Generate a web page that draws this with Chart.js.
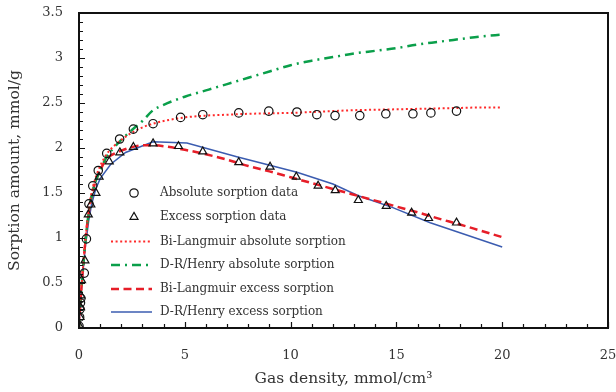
<!DOCTYPE html>
<html>
<head>
<meta charset="utf-8">
<script src="https://cdn.jsdelivr.net/npm/chart.js@4.4.1/dist/chart.umd.min.js"></script>
<style>
	html, body { margin: 0; padding: 0; background: #fff; }
</style>
</head>
<body>
<canvas id="grafico" width="616" height="392"></canvas>
<script>
// measured points (gas density, sorption amount)
const absX = [0, 0.03, 0.05, 0.07, 0.09, 0.25, 0.35, 0.47, 0.65, 0.91, 1.31, 1.92, 2.57, 3.5, 4.8, 5.85, 7.55, 8.97, 10.3, 11.24, 12.1, 13.27, 14.5, 15.78, 16.63, 17.84];
const absY = [0.02, 0.12, 0.21, 0.28, 0.33, 0.61, 0.99, 1.38, 1.58, 1.75, 1.94, 2.10, 2.21, 2.27, 2.34, 2.37, 2.39, 2.41, 2.40, 2.37, 2.36, 2.36, 2.38, 2.38, 2.39, 2.41];
const excX = [0.02, 0.05, 0.07, 0.09, 0.12, 0.28, 0.44, 0.56, 0.8, 0.95, 1.43, 1.93, 2.57, 3.5, 4.7, 5.85, 7.55, 9.03, 10.27, 11.3, 12.11, 13.2, 14.52, 15.72, 16.52, 17.84];
const excY = [0.02, 0.12, 0.23, 0.36, 0.53, 0.75, 1.26, 1.37, 1.50, 1.68, 1.85, 1.95, 2.01, 2.05, 2.02, 1.96, 1.84, 1.79, 1.68, 1.58, 1.53, 1.42, 1.355, 1.28, 1.22, 1.17];

// model curves
const curveX = [0, 0.05, 0.1, 0.2, 0.3, 0.4, 0.5, 0.65, 0.8, 1, 1.3, 1.6, 2, 2.5, 3, 3.5, 4, 5, 6, 7, 8, 9, 10, 11, 12, 13, 14, 15, 16, 17, 18, 19, 20];
const biLangAbs = [0, 0.22, 0.4, 0.7, 0.97, 1.2, 1.38, 1.56, 1.68, 1.80, 1.93, 2.01, 2.09, 2.17, 2.23, 2.27, 2.30, 2.34, 2.36, 2.37, 2.38, 2.385, 2.39, 2.40, 2.41, 2.42, 2.425, 2.43, 2.435, 2.44, 2.445, 2.45, 2.45];
const drAbs = [0, 0.2, 0.38, 0.68, 0.95, 1.17, 1.34, 1.52, 1.64, 1.75, 1.90, 1.99, 2.09, 2.2, 2.3, 2.42, 2.48, 2.57, 2.64, 2.71, 2.78, 2.85, 2.92, 2.97, 3.01, 3.05, 3.08, 3.11, 3.15, 3.18, 3.21, 3.24, 3.26];
const biLangExc = [0, 0.22, 0.4, 0.7, 0.96, 1.18, 1.34, 1.52, 1.64, 1.75, 1.88, 1.93, 1.97, 2.01, 2.03, 2.03, 2.02, 1.98, 1.93, 1.87, 1.80, 1.74, 1.675, 1.61, 1.545, 1.48, 1.415, 1.35, 1.285, 1.215, 1.15, 1.08, 1.01];
const drExcX = [0, 0.05, 0.1, 0.2, 0.3, 0.45, 0.6, 0.8, 1.0, 1.5, 2.2, 3.5, 5.1, 7.5, 10.3, 12.0, 13.2, 14.8, 16.6, 20];
const drExcY = [0, 0.22, 0.38, 0.66, 0.9, 1.18, 1.38, 1.55, 1.66, 1.82, 1.95, 2.07, 2.055, 1.90, 1.73, 1.60, 1.47, 1.34, 1.17, 0.90];

// axis ticks
const xTicks = [0, 5, 10, 15, 20, 25];
const yTicks = [0, 0.5, 1, 1.5, 2, 2.5, 3, 3.5];

const labels = ['Absolute sorption data', 'Excess sorption data', 'Bi-Langmuir absolute sorption', 'D-R/Henry absolute sorption', 'Bi-Langmuir excess sorption', 'D-R/Henry excess sorption'];

(function(){
	const FONT = '"DejaVu Serif", "Liberation Serif", serif';
	const INK = '#333';

	function pairs(xs, ys){
		return xs.map((x, i) => ({ x: x, y: ys[i] }));
	}

	// ticks pointing inside + closed frame
	const frame = {
		id: 'cornice',
		afterDraw(chart){
			const ctx = chart.ctx;
			const a = chart.chartArea;
			const sx = chart.scales.x, sy = chart.scales.y;
			ctx.save();
			ctx.strokeStyle = '#111';
			ctx.lineWidth = 1.2;
			ctx.beginPath();
			for(let v = 0; v <= 25; v++){
				const px = Math.round(sx.getPixelForValue(v)) + 0.5;
				const len = v % 5 === 0 ? 6 : 4;
				ctx.moveTo(px, a.bottom);
				ctx.lineTo(px, a.bottom - len);
			}
			for(let k = 0; k <= 35; k++){
				const py = Math.round(sy.getPixelForValue(k / 10)) + 0.5;
				const len = k % 5 === 0 ? 6 : 4;
				ctx.moveTo(a.left, py);
				ctx.lineTo(a.left + len, py);
			}
			ctx.stroke();
			ctx.lineWidth = 2;
			ctx.strokeRect(a.left, a.top, a.right - a.left, a.bottom - a.top);
			ctx.restore();
		}
	};

	// legend inside the plot, drawn from the dataset styles
	const legenda = {
		id: 'legendaInterna',
		afterDraw(chart){
			const ctx = chart.ctx;
			const a = chart.chartArea;
			const rows = [180, 204, 228.5, 252, 276, 299];
			ctx.save();
			chart.data.datasets.forEach((ds, i) => {
				const y = a.top + rows[i];
				if(ds.showLine){
					ctx.strokeStyle = ds.borderColor;
					ctx.lineWidth = ds.borderWidth;
					ctx.setLineDash(ds.borderDash || []);
					ctx.beginPath();
					ctx.moveTo(a.left + 32, y);
					ctx.lineTo(a.left + 73, y);
					ctx.stroke();
					ctx.setLineDash([]);
				} else {
					ctx.strokeStyle = ds.borderColor;
					ctx.fillStyle = 'rgba(0,0,0,0)';
					ctx.lineWidth = ds.borderWidth;
					Chart.helpers.drawPoint(ctx, {
						pointStyle: ds.pointStyle,
						radius: ds.pointRadius,
						borderWidth: ds.borderWidth,
						rotation: 0
					}, a.left + 55, y);
				}
				ctx.fillStyle = INK;
				ctx.font = '12px ' + FONT;
				ctx.textBaseline = 'middle';
				ctx.textAlign = 'left';
				ctx.fillText(ds.label, a.left + 81, y);
			});
			ctx.restore();
		}
	};

	function creaGrafico(){
		const canvas = document.getElementById('grafico');
		const ctx = canvas.getContext('2d');

		const data = {
			datasets: [
				{
					label: labels[0],
					data: pairs(absX, absY),
					showLine: false,
					pointStyle: 'circle',
					pointRadius: 4.2,
					borderColor: '#111',
					backgroundColor: 'rgba(0,0,0,0)',
					borderWidth: 1.2,
					order: 0
				},
				{
					label: labels[1],
					data: pairs(excX, excY),
					showLine: false,
					pointStyle: 'triangle',
					pointRadius: 4.6,
					borderColor: '#111',
					backgroundColor: 'rgba(0,0,0,0)',
					borderWidth: 1.2,
					order: 1
				},
				{
					label: labels[2],
					data: pairs(curveX, biLangAbs),
					showLine: true,
					pointRadius: 0,
					borderColor: '#ff2a2a',
					borderWidth: 2,
					borderDash: [2, 2.6],
					cubicInterpolationMode: 'monotone',
					order: 2
				},
				{
					label: labels[3],
					data: pairs(curveX, drAbs),
					showLine: true,
					pointRadius: 0,
					borderColor: '#0a9f4a',
					borderWidth: 2.5,
					borderDash: [9, 5, 2, 5],
					cubicInterpolationMode: 'monotone',
					order: 3
				},
				{
					label: labels[4],
					data: pairs(curveX, biLangExc),
					showLine: true,
					pointRadius: 0,
					borderColor: '#e61e28',
					borderWidth: 2.5,
					borderDash: [8, 4.5],
					cubicInterpolationMode: 'monotone',
					order: 4
				},
				{
					label: labels[5],
					data: pairs(drExcX, drExcY),
					showLine: true,
					pointRadius: 0,
					borderColor: '#3b5cb0',
					borderWidth: 1.5,
					order: 5
				}
			]
		};

		const config = {
			type: 'scatter',
			data: data,
			options: {
				responsive: false,
				animation: false,
				devicePixelRatio: 1,
				layout: { padding: 0 },
				scales: {
					x: {
						type: 'linear',
						min: 0,
						max: 25,
						afterBuildTicks: s => { s.ticks = xTicks.map(v => ({ value: v })); },
						// fix the box so the plot frame lands where the original has it
						afterFit: s => { s.height = 64; s.paddingLeft = 0; s.paddingRight = 8; },
						grid: { display: false, drawTicks: false },
						border: { display: false },
						ticks: { color: INK, font: { family: FONT, size: 13 }, padding: 20, maxRotation: 0, callback: v => String(v) },
						title: {
							display: true,
							text: 'Gas density, mmol/cm³',
							color: INK,
							font: { family: FONT, size: 15.5 },
							padding: { top: 0, bottom: 4 }
						}
					},
					y: {
						type: 'linear',
						min: 0,
						max: 3.5,
						afterBuildTicks: s => { s.ticks = yTicks.map(v => ({ value: v })); },
						afterFit: s => { s.width = 79; s.paddingTop = 13; s.paddingBottom = 0; },
						grid: { display: false, drawTicks: false },
						border: { display: false },
						ticks: { color: INK, font: { family: FONT, size: 13 }, padding: 16, callback: v => String(v) },
						title: {
							display: true,
							text: 'Sorption amount, mmol/g',
							color: INK,
							font: { family: FONT, size: 15.5 },
							padding: { top: 6, bottom: 4 }
						}
					}
				},
				plugins: {
					legend: { display: false },
					tooltip: { enabled: false }
				}
			},
			plugins: [frame, legenda]
		};

		return new Chart(ctx, config);
	}

	function start(){
		creaGrafico();
	}

	if(document.readyState === 'loading') document.addEventListener('DOMContentLoaded', start);
	else start();
})();
</script>
</body>
</html>
